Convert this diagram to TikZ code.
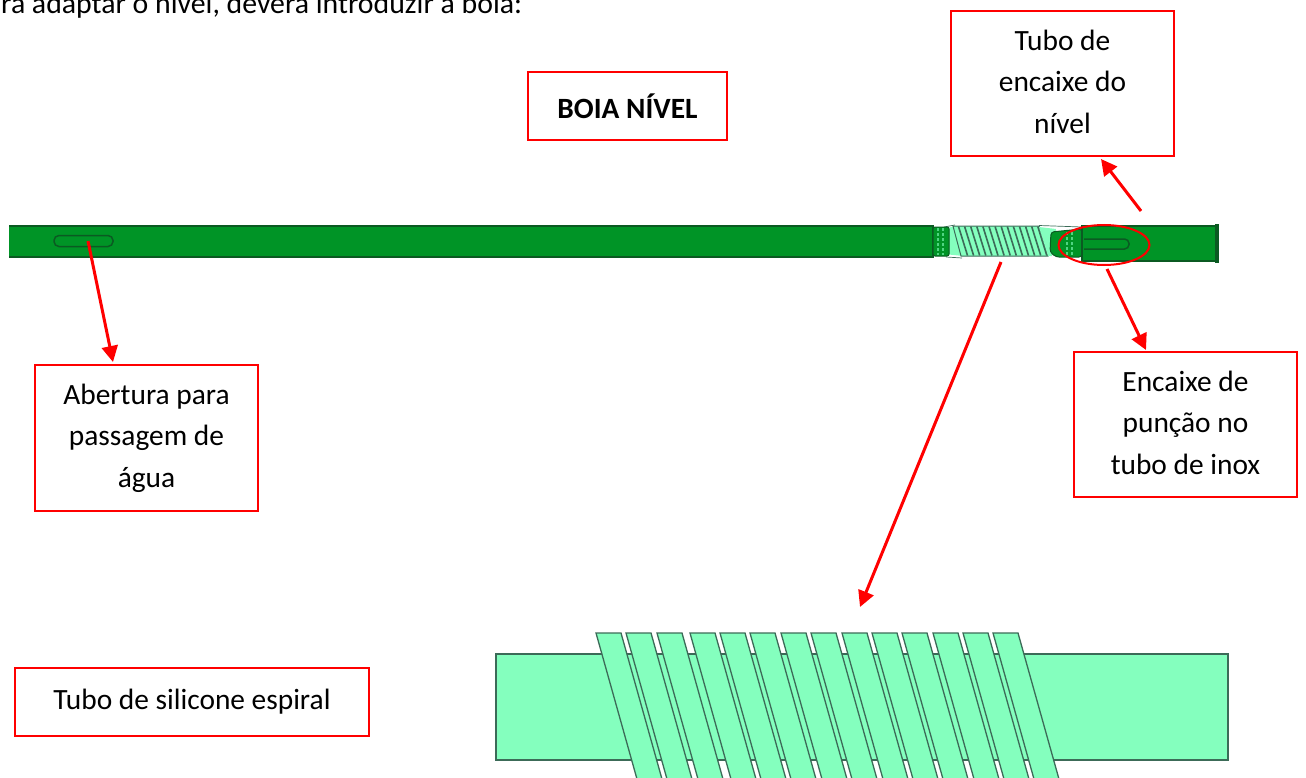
\documentclass[tikz,border=0pt]{standalone}
\usepackage{fontspec}
\setmainfont{Carlito}
\usetikzlibrary{arrows.meta,shapes.geometric}
\definecolor{barg}{HTML}{009426}
\definecolor{bard}{HTML}{0B5A22}
\definecolor{lightg}{HTML}{84FFBE}
\definecolor{edgeg}{HTML}{3C6B58}
\tikzset{
  x=1pt,y=-1pt,
  labelbox/.style={draw=red,line width=2pt,fill=white,align=center,inner sep=0pt,font=\fontsize{29.4}{41.5}\selectfont},
  pointer/.style={draw=red,line width=3pt,-{Triangle[length=16pt,width=16pt]}},
  barbody/.style={fill=barg,draw=bard,line width=1.4pt},
  spiral/.style={fill=lightg,draw=edgeg,line width=1.3pt,line join=miter},
  slotline/.style={draw=bard,line width=1.5pt},
}
\begin{document}
\begin{tikzpicture}
\useasboundingbox (0,0) rectangle (1306,778);
% header line
\node[anchor=base west,inner sep=0pt,font=\fontsize{29.8}{30}\selectfont] (intro) at (1,13.5) {ra adaptar o nível, deverá introduzir a boia:};
% float bar
\fill[barg] (9,226) rectangle (933,257);
\draw[bard,line width=1.4pt] (9,226) -- (933,226) -- (933,257) -- (9,257);
\node[slotline,fill=none,rounded corners=5pt,minimum width=59pt,minimum height=11pt,inner sep=0pt] (slotA) at (83.5,241) {};
% left coupling
\fill[lightg] (944,229) -- (955,226) -- (963,256) -- (944,254) -- cycle;
\draw[edgeg,line width=.7pt] (944,227) -- (955,225) (946,257) -- (962,258);
\draw[barbody,line width=1pt,rounded corners=2pt] (933,227) rectangle (949,256);
\draw[lightg!60!barg,line width=1.2pt,dash pattern=on 3pt off 2pt] (938,228) -- (938,255) (943,228) -- (943,255);
% spiral section of the bar
\draw[fill=lightg,draw=edgeg,line width=1pt] (953,226) -- (1039,226) -- (1048,256) -- (961,256) -- cycle;
\foreach \i in {0,...,13}{
  \draw[edgeg,line width=1.6pt] ({958.5+6.1*\i},226.5) -- ({967.5+6.1*\i},255.5);
}
% right coupling
\fill[lightg] (1039,227) -- (1056,229) -- (1052,256) -- (1048,256) -- cycle;
\draw[edgeg,line width=.7pt] (1039,225.5) -- (1082,227);
\draw[barbody,line width=1pt,rounded corners=3pt] (1051,232) -- (1082,229) -- (1082,257) -- (1056,257) -- (1050,252) -- cycle;
\draw[lightg!60!barg,line width=1.2pt,dash pattern=on 3pt off 2pt] (1067,232) -- (1067,255) (1072,232) -- (1072,255);
% inox end tube
\draw[barbody] (1082,226) rectangle (1216,261);
\fill[bard] (1215,224) rectangle (1219,263);
\draw[slotline,rounded corners=4.5pt] (1084,239) -- (1129,239) -- (1129,249) -- (1084,249);
% red ellipse
\node[draw=red,line width=2pt,ellipse,fill=none,minimum width=91pt,minimum height=40pt,inner sep=0pt] (ring) at (1104,245) {};
% large spiral detail
\draw[spiral] (496,654) rectangle (1228,760);
\foreach \xt in {596,626,657,690,720,750,781,811,842,872,902,933,963,993}{
  \draw[spiral] (\xt,633) -- ({\xt+25},633) -- ({\xt+25+41.8},782) -- ({\xt+41.8},782) -- cycle;
}
% label boxes
\node[labelbox,minimum width=199pt,minimum height=68pt] (title) at (627.5,106) {\textbf{BOIA NÍVEL}};
\node[labelbox,minimum width=223pt,minimum height=145pt] (boxTube) at (1062.5,83.5) {\raisebox{1.5pt}{\begin{tabular}{@{}c@{}}Tubo de\\encaixe do\\nível\end{tabular}}};
\node[labelbox,minimum width=223pt,minimum height=146pt] (boxOpen) at (146.5,438) {Abertura para\\passagem de\\água};
\node[labelbox,minimum width=223pt,minimum height=145pt] (boxPunch) at (1185.5,424.5) {\raisebox{1.5pt}{\begin{tabular}{@{}c@{}}Encaixe de\\punção no\\tubo de inox\end{tabular}}};
\node[labelbox,minimum width=354pt,minimum height=68pt] (boxSil) at (192,702) {Tubo de silicone espiral};
% pointers
\coordinate (startA) at (88,241);
\coordinate (tipA) at (113,362);
\coordinate (startB) at (1141,211);
\coordinate (tipB) at (1101,159);
\coordinate (startC) at (1107,269);
\coordinate (tipC) at (1146,350);
\coordinate (startD) at (1001,262);
\coordinate (tipD) at (860,607);
\draw[pointer] (startA) -- (tipA);
\draw[pointer] (startB) -- (tipB);
\draw[pointer] (startC) -- (tipC);
\draw[pointer] (startD) -- (tipD);
\end{tikzpicture}
\end{document}
